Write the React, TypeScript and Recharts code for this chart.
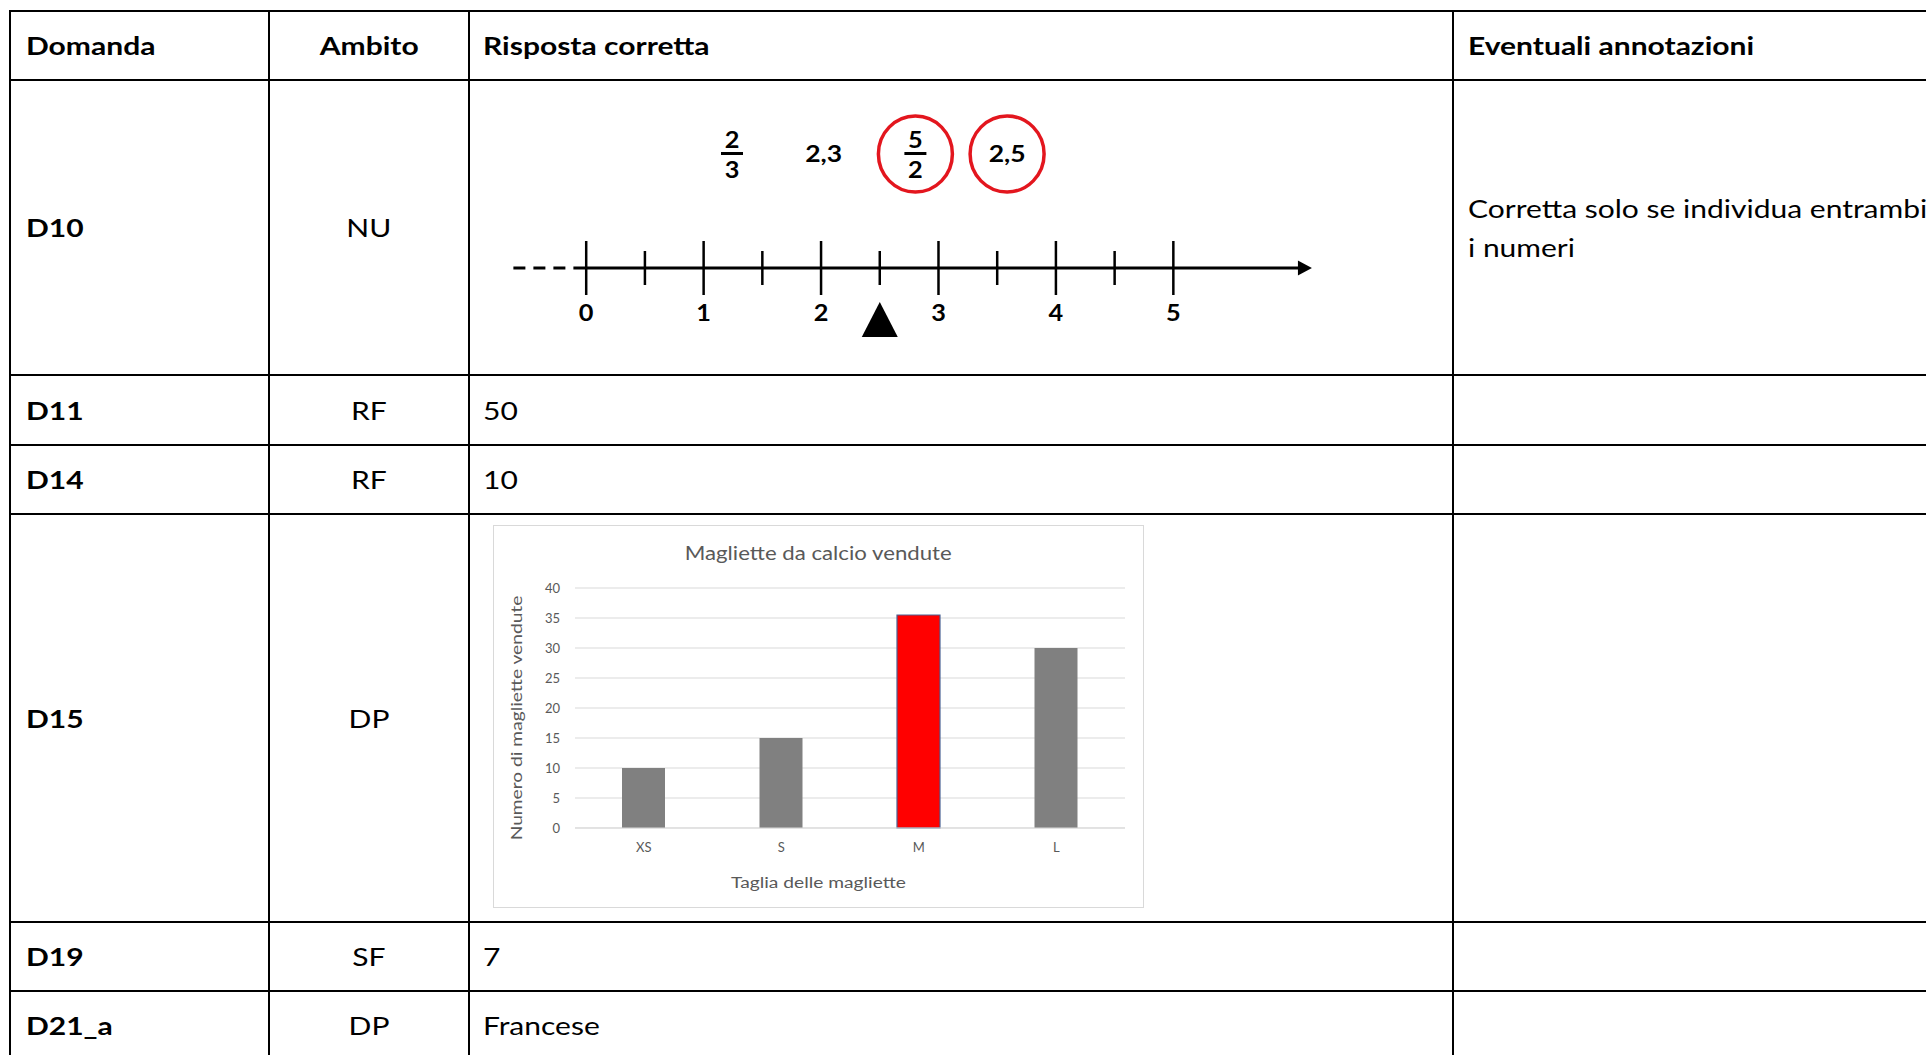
import React from "react";
import {
  BarChart,
  Bar,
  XAxis,
  YAxis,
  CartesianGrid,
  Cell,
  Label,
  ComposedChart,
  Line,
  Scatter,
} from "recharts";

const FONT = "Lato, 'Open Sans', sans-serif";
const SX = 1.2; // the source text is stretched horizontally

// table content
const headers = ["Domanda", "Ambito", "Risposta corretta", "Eventuali annotazioni"];
const domande = ["D10", "D11", "D14", "D15", "D19", "D21_a"];
const ambiti = ["NU", "RF", "RF", "DP", "SF", "DP"];
const risposte = ["", "50", "10", "", "7", "Francese"];
const annotazioni = [["Corretta solo se individua entrambi", "i numeri"], [], [], [], [], []];

// D10: number line
const lineTicks = [0, 0.5, 1, 1.5, 2, 2.5, 3, 3.5, 4, 4.5, 5];
const lineDomain = [-0.7, 6.3];
const dashedPart = [-0.62, 0];
const solidPart = [0, 6.1];
const arrowAt = [6.18];
const markerAt = [2.5];
const choices = ["2/3", "2,3", "5/2", "2,5"];
const circled = [false, false, true, true];

// D15: bar chart
const sizes = ["XS", "S", "M", "L"];
const sold = [10, 15, 35.5, 30];
const highlight = "M";
const yTicks = [0, 5, 10, 15, 20, 25, 30, 35, 40];

// grid of the table (page pixels)
const colX = [10, 269, 469, 1453, 1926];
const rowY = [11, 80, 375, 445, 514, 922, 991, 1060];
const padLeft = [16, 0, 14, 15];

const Wide = ({ children, origin = "left", sx = SX }: any) => (
  <span
    style={{
      display: "inline-block",
      transform: `scaleX(${sx})`,
      transformOrigin: `${origin} center`,
      whiteSpace: "nowrap",
    }}
  >
    {children}
  </span>
);

function TextCell({ row, col, bold, lines }: any) {
  const centered = col === 1;
  return (
    <div
      style={{
        position: "absolute",
        left: colX[col],
        top: rowY[row],
        width: colX[col + 1] - colX[col],
        height: rowY[row + 1] - rowY[row],
        display: "flex",
        flexDirection: "column",
        justifyContent: "center",
        alignItems: centered ? "center" : "flex-start",
        paddingLeft: padLeft[col],
        boxSizing: "border-box",
        fontFamily: FONT,
        fontSize: 25,
        lineHeight: "39px",
        fontWeight: bold ? 700 : 400,
        color: "#000",
      }}
    >
      {lines.map((t: string, i: number) => (
        <Wide key={i} origin={centered ? "center" : "left"}>
          {t}
        </Wide>
      ))}
    </div>
  );
}

const NLTick = (props: any) => {
  const { x, y, payload } = props;
  const v = payload.value;
  const major = Number.isInteger(v);
  const h = major ? 27 : 17;
  return (
    <g>
      <line x1={x} x2={x} y1={y - h} y2={y + h} stroke="#000" strokeWidth={2.5} />
      {major && (
        <text
          transform={`translate(${x},${y + 45}) scale(1.15,1)`}
          textAnchor="middle"
          dominantBaseline="central"
          fontFamily={FONT}
          fontWeight={700}
          fontSize={22}
          fill="#000"
        >
          {v}
        </text>
      )}
    </g>
  );
};

const Arrow = ({ cx, cy }: any) => (
  <path d={`M${cx},${cy} L${cx - 14},${cy - 7.5} L${cx - 14},${cy + 7.5} Z`} fill="#000" />
);

const Marker = ({ cx, cy }: any) => (
  <path d={`M${cx},${cy + 34} L${cx + 18},${cy + 69} L${cx - 18},${cy + 69} Z`} fill="#000" />
);

function NumberLine() {
  const toPts = (xs: number[]) => xs.map((x) => ({ x, y: 0 }));
  return (
    <div style={{ position: "absolute", left: 490, top: 90 }}>
      <ComposedChart width={850} height={260} margin={{ top: 0, right: 14, bottom: 22, left: 14 }}>
        <XAxis
          type="number"
          dataKey="x"
          domain={lineDomain}
          ticks={lineTicks}
          interval={0}
          tick={<NLTick />}
          tickLine={false}
          axisLine={false}
          tickSize={0}
          tickMargin={0}
          height={60}
        />
        <YAxis type="number" dataKey="y" domain={[0, 1]} hide />
        <Line
          data={toPts(dashedPart)}
          dataKey="y"
          stroke="#000"
          strokeWidth={3}
          strokeDasharray="12 8"
          dot={false}
          activeDot={false}
          isAnimationActive={false}
        />
        <Line
          data={toPts(solidPart)}
          dataKey="y"
          stroke="#000"
          strokeWidth={3}
          dot={false}
          activeDot={false}
          isAnimationActive={false}
        />
        <Scatter data={toPts(arrowAt)} dataKey="y" shape={Arrow} isAnimationActive={false} />
        <Scatter data={toPts(markerAt)} dataKey="y" shape={Marker} isAnimationActive={false} />
      </ComposedChart>
    </div>
  );
}

function Choices() {
  const x0 = 42;
  const step = 91.7;
  const cy = 54;
  return (
    <svg style={{ position: "absolute", left: 690, top: 100 }} width={380} height={110}>
      {choices.map((c, i) => {
        const cx = x0 + i * step;
        const frac = c.includes("/");
        const [num, den] = c.split("/");
        return (
          <g key={c}>
            {circled[i] && (
              <ellipse cx={cx} cy={cy} rx={37} ry={38} fill="none" stroke="#e3161e" strokeWidth={3.5} />
            )}
            {frac ? (
              <g fontFamily={FONT} fontWeight={700} fontSize={23} fill="#000">
                <text transform={`translate(${cx},${cy - 15}) scale(1.1,1)`} textAnchor="middle" dominantBaseline="central">
                  {num}
                </text>
                <rect x={cx - 11} y={cy - 2} width={22} height={3} fill="#000" />
                <text transform={`translate(${cx},${cy + 15}) scale(1.1,1)`} textAnchor="middle" dominantBaseline="central">
                  {den}
                </text>
              </g>
            ) : (
              <text
                transform={`translate(${cx},${cy - 1}) scale(1.15,1)`}
                textAnchor="middle"
                dominantBaseline="central"
                fontFamily={FONT}
                fontWeight={700}
                fontSize={23}
                fill="#000"
              >
                {c}
              </text>
            )}
          </g>
        );
      })}
    </svg>
  );
}

function SalesChart() {
  const data = sizes.map((s, i) => ({ size: s, sold: sold[i] }));
  const W = 651;
  const H = 383;
  const tickStyle = { fill: "#595959", fontSize: 13, fontFamily: FONT };
  return (
    <div style={{ position: "absolute", left: 493, top: 525, width: W, height: H }}>
      <div
        style={{
          position: "absolute",
          inset: 0,
          border: "1.5px solid #d9d9d9",
          boxSizing: "border-box",
        }}
      />
      <div
        style={{
          position: "absolute",
          left: 0,
          top: 17,
          width: W,
          textAlign: "center",
          fontFamily: FONT,
          fontSize: 18.5,
          color: "#595959",
        }}
      >
        <Wide origin="center">Magliette da calcio vendute</Wide>
      </div>
      <BarChart width={W} height={H} data={data} margin={{ top: 63, right: 19, bottom: 0, left: 0 }} barSize={43}>
        <CartesianGrid vertical={false} stroke="#d9d9d9" />
        <XAxis
          dataKey="size"
          height={80}
          interval={0}
          tickSize={0}
          tickMargin={15}
          tickLine={false}
          axisLine={{ stroke: "#d9d9d9" }}
          tick={tickStyle}
        >
          <Label
            value="Taglia delle magliette"
            content={() => (
              <text
                transform={`translate(${W / 2},357) scale(${SX},1)`}
                textAnchor="middle"
                dominantBaseline="central"
                fontFamily={FONT}
                fontSize={16}
                fill="#595959"
              >
                Taglia delle magliette
              </text>
            )}
          />
        </XAxis>
        <YAxis
          width={82}
          domain={[0, 40]}
          ticks={yTicks}
          interval={0}
          tickSize={0}
          tickMargin={15}
          tickLine={false}
          axisLine={false}
          tick={tickStyle}
        >
          <Label
            value="Numero di magliette vendute"
            content={() => (
              <text
                transform={`translate(23,193) rotate(-90) scale(${SX},1)`}
                textAnchor="middle"
                dominantBaseline="central"
                fontFamily={FONT}
                fontSize={16}
                fill="#595959"
              >
                Numero di magliette vendute
              </text>
            )}
          />
        </YAxis>
        <Bar dataKey="sold" isAnimationActive={false}>
          {data.map((d) => (
            <Cell
              key={d.size}
              fill={d.size === highlight ? "#ff0000" : "#808080"}
              stroke={d.size === highlight ? "#4a6394" : "none"}
              strokeWidth={1.2}
            />
          ))}
        </Bar>
      </BarChart>
    </div>
  );
}

export default function App() {
  const rows = domande.map((d, i) => [[d], [ambiti[i]], risposte[i] ? [risposte[i]] : [], annotazioni[i]]);
  return (
    <div
      style={{
        position: "absolute",
        left: 0,
        top: 0,
        width: 1926,
        height: 1055,
        overflow: "hidden",
        background: "#fff",
      }}
    >
      {headers.map((h, c) => (
        <TextCell key={h} row={0} col={c} bold lines={[h]} />
      ))}
      {rows.map((r, i) =>
        r.map((lines, c) => <TextCell key={`${i}-${c}`} row={i + 1} col={c} bold={c === 0} lines={lines} />)
      )}
      <NumberLine />
      <Choices />
      <SalesChart />
      {rowY.slice(0, -1).map((y) => (
        <div key={`h${y}`} style={{ position: "absolute", left: 9, top: y - 1, width: 1926, height: 2, background: "#000" }} />
      ))}
      {colX.slice(0, -1).map((x) => (
        <div key={`v${x}`} style={{ position: "absolute", left: x - 1, top: 10, width: 2, height: 1100, background: "#000" }} />
      ))}
    </div>
  );
}
